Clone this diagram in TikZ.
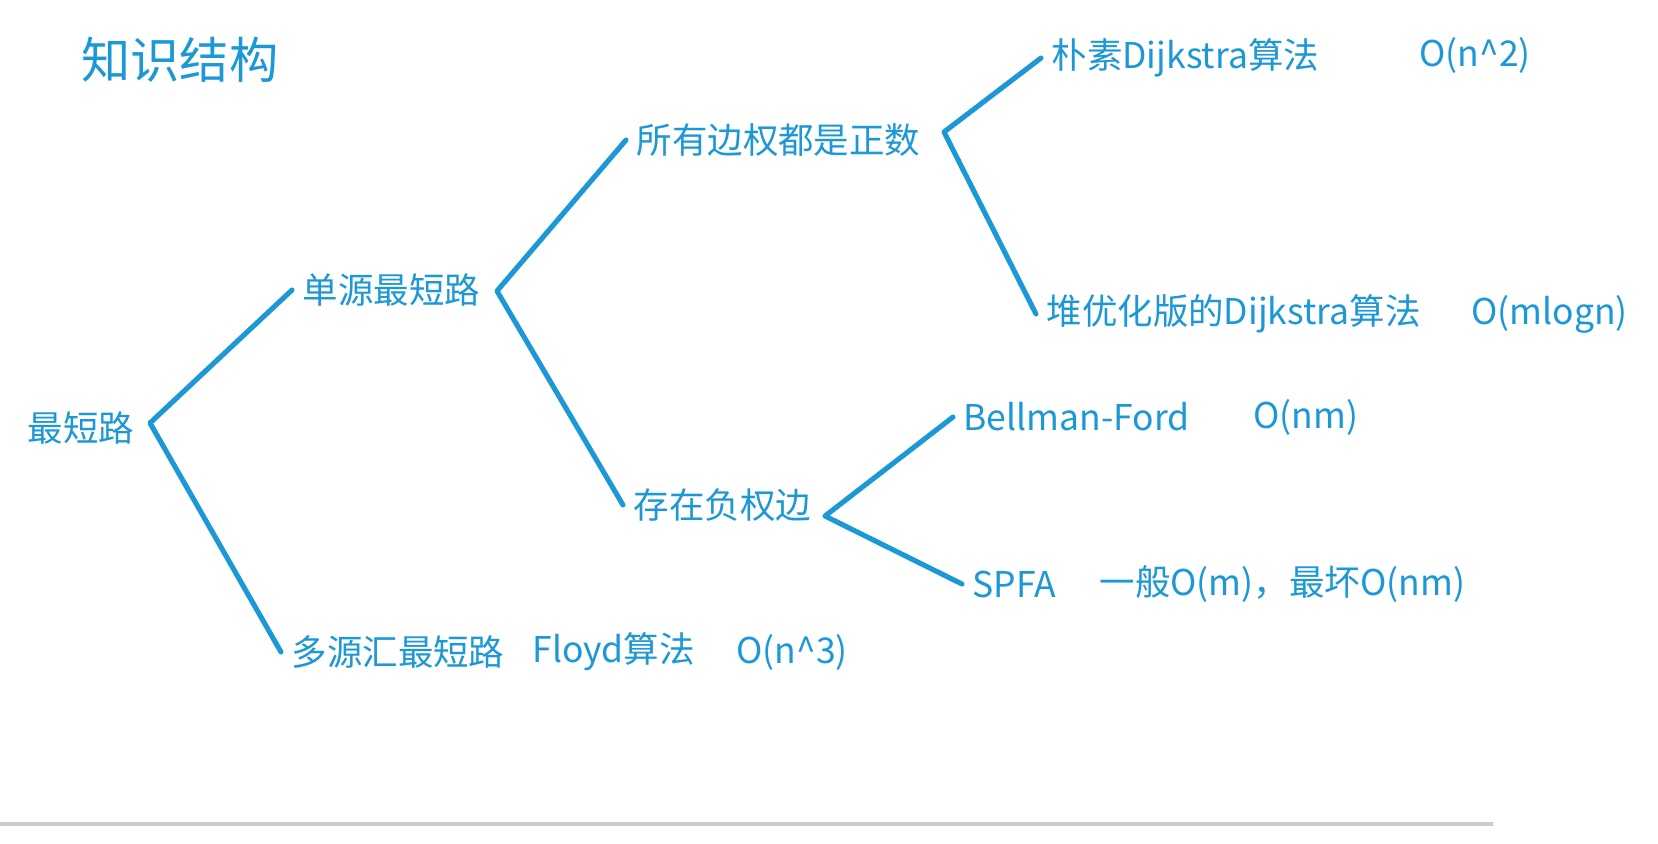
\documentclass[tikz,border=0pt]{standalone}
\usepackage{fontspec}
\setmainfont{Noto Sans CJK SC}
\usepackage{tikz}

\definecolor{penblue}{RGB}{28,152,214}

\tikzset{
  lbl/.style={anchor=west, inner sep=0pt, outer xsep=6pt, text=penblue,
    font=\fontsize{20.2}{24}\selectfont},
  br/.style={draw=penblue, line width=2.9pt, line cap=round, line join=round}
}

\begin{document}
\begin{tikzpicture}[x=0.02cm, y=-0.02cm]

\useasboundingbox[fill=white] (0,0) rectangle (1658,843);

%% title
\node[text=penblue, font=\fontsize{28}{32}\selectfont, inner sep=0pt] (title) at (180,60) {知识结构};

%% labels
\node[lbl] (root) at (17,428) {最短路};
\node[lbl] (single) at (292,290) {单源最短路};
\node[lbl] (multi) at (281,652) {多源汇最短路};
\node[lbl] (pos) at (626,140) {所有边权都是正数};
\node[lbl] (neg) at (623,505) {存在负权边};
\node[lbl] (naive) at (1041,58) {朴素Dijkstra算法};
\node[lbl] (heap) at (1036,314) {堆优化版的Dijkstra算法};
\node[lbl] (bf) at (953,417) {Bellman-Ford};
\node[lbl] (spfa) at (962,584) {SPFA};

%% costs
\node[lbl] (naivecost) at (1409,55) {O(n\^{}2)};
\node[lbl] (heapcost) at (1461,314) {O(mlogn)};
\node[lbl] (bfcost) at (1243,417) {O(nm)};
\node[lbl] (spfacost) at (1089,584) {一般O(m)，最坏O(nm)};
\node[lbl] (floyd) at (522,652) {Floyd算法};
\node[lbl] (floydcost) at (726,652) {O(n\^{}3)};

%% junctions
\coordinate (j0) at (150,423);
\coordinate (j1) at (497,291);
\coordinate (j2) at (944,132);
\coordinate (j3) at (825,516);

%%% branches
\draw[br] (single.west) -- (j0) -- (multi.west);
\draw[br] (pos.west) -- (j1) -- (neg.west);
\draw[br] (naive.west) -- (j2) -- (heap.west);
\draw[br] (bf.west) -- (j3) -- (spfa.west);

%% bottom rule
\draw[gray!40, line width=2.8pt] (0,824) -- (1493,824);

\end{tikzpicture}
\end{document}
